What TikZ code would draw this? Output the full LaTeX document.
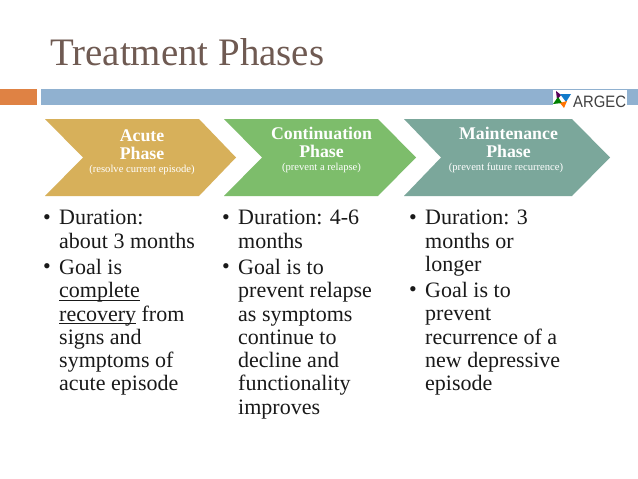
\documentclass[tikz,border=0pt]{standalone}
\usepackage{fontspec}
\setmainfont{Liberation Serif}
\newfontfamily\argec{Liberation Sans}
\definecolor{gold}{HTML}{D7B05A}
\definecolor{grn}{HTML}{7DBD6B}
\definecolor{teal2}{HTML}{7BA79B}
\definecolor{ttl}{HTML}{6F5A52}
\definecolor{orng}{HTML}{DF8244}
\definecolor{blu}{HTML}{90B1D0}
\newcommand\ulin[1]{\setbox0\hbox{#1}\rlap{\rule[-2.8pt]{\wd0}{1pt}}\box0\relax}
\begin{document}
\begin{tikzpicture}[x=1pt,y=-1pt,
 hd/.style={text=white,font=\bfseries\fontsize{17.8}{17.8}\selectfont,inner sep=0pt,anchor=base},
 sub/.style={text=white,font=\fontsize{10.6}{11}\selectfont,inner sep=0pt,anchor=base},
 bul/.style={font=\fontsize{22}{23.3}\selectfont,anchor=north west,align=left,inner sep=0pt,text=black!90}]
\useasboundingbox (0,0) rectangle (638,479);
\fill[white] (0,0) rectangle (638,479);
\node[text=ttl,font=\fontsize{38.9}{39}\selectfont,anchor=base west,inner sep=0pt] (title) at (50,65) {Treatment Phases};
\fill[orng] (0,89) rectangle (37,105);
\fill[blu] (41,89) rectangle (638,105);
\fill[white] (553,90) rectangle (627,105);
\fill[gold] (45,119) -- (199,119) -- (236,157.5) -- (199,196) -- (45,196) -- (83,157.5) -- cycle;
\fill[grn] (224,119) -- (378,119) -- (416,157.5) -- (378,196) -- (224,196) -- (262,157.5) -- cycle;
\fill[teal2] (404,119) -- (572,119) -- (610,157.5) -- (572,196) -- (404,196) -- (441,157.5) -- cycle;
\node[hd] (a1) at (142,141) {Acute};
\node[hd] (a2) at (142,159) {Phase};
\node[sub] (a3) at (142,172) {(resolve current episode)};
\node[hd] (b1) at (321.5,139) {Continuation};
\node[hd] (b2) at (321.5,157) {Phase};
\node[sub] (b3) at (321.5,170) {(prevent a relapse)};
\node[hd] (c1) at (508.5,139) {Maintenance};
\node[hd] (c2) at (508.5,157) {Phase};
\node[sub] (c3) at (506,170) {(prevent future recurrence)};
\node[bul] (l1) at (43,214) {•};
\node[bul] (l1t) at (59,210) {Duration:\\about 3 months};
\node[bul] (l2) at (43,263) {•};
\node[bul] (l2t) at (59,259) {Goal is\\\ulin{complete}\\\ulin{recovery} from\\signs and\\symptoms of\\acute episode};
\node[bul] (m1) at (222,214) {•};
\node[bul] (m1t) at (238,210) {Duration: 4-6\\months};
\node[bul] (m2) at (222,263) {•};
\node[bul] (m2t) at (238,259) {Goal is to\\prevent relapse\\as symptoms\\continue to\\decline and\\functionality\\improves};
\node[bul] (r1) at (409,214) {•};
\node[bul] (r1t) at (425,210) {Duration: 3\\months or\\longer};
\node[bul] (r2) at (409,286) {•};
\node[bul] (r2t) at (425,282) {Goal is to\\prevent\\recurrence of a\\new depressive\\episode};
\node[font=\argec\fontsize{16.5}{16.5}\selectfont,text=black!75,anchor=base west,inner sep=0pt] (logo) at (573,107) {\scalebox{0.9}[1]{ARGEC}};
\fill[violet!70!black] (556,91) -- (561,95) -- (557,100) -- cycle;
\fill[cyan!60!blue] (560,94) -- (571,94) -- (566,102) -- cycle;
\fill[green!50!black] (553,104) -- (558,97) -- (562,103) -- cycle;
\fill[orange!90!red] (560,103) -- (567,101) -- (564,108) -- cycle;
\end{tikzpicture}
\end{document}
